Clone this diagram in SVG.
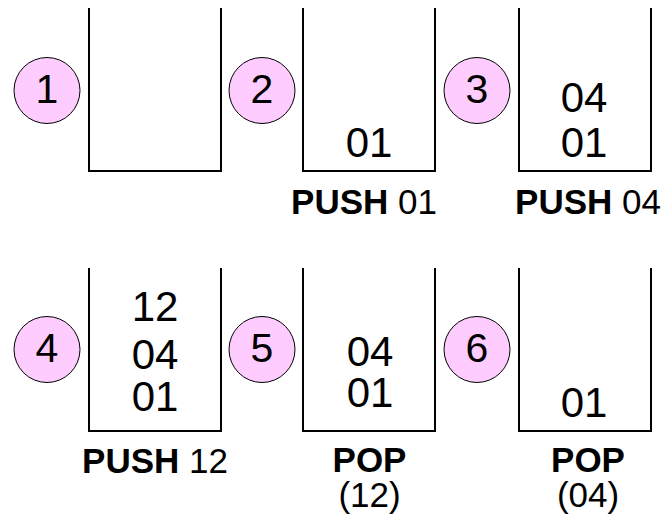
<svg xmlns="http://www.w3.org/2000/svg" width="672" height="523" viewBox="0 0 672 523">
<style>
.c{fill:#FFCCFF;stroke:#000;stroke-width:1}
.s{fill:none;stroke:#000;stroke-width:2}
text{font-family:"Liberation Sans",Arial,sans-serif;fill:#000;text-anchor:middle}
.n{font-size:41px}
.v{font-size:42px}
.l{font-size:35px}
.b{font-weight:bold}
</style>
<rect width="672" height="523" fill="#fff"/>
<g id="step1">
<circle class="c" cx="47" cy="90.5" r="33"/>
<text class="n" x="47" y="103">1</text>
<path class="s" d="M89,8V171H221V8"/>
</g>
<g id="step2">
<circle class="c" cx="262" cy="90.5" r="33"/>
<text class="n" x="262" y="103">2</text>
<path class="s" d="M303,8V171H435V8"/>
<text class="v" x="369" y="157">01</text>
<text class="l" x="364" y="214"><tspan class="b">PUSH</tspan> 01</text>
</g>
<g id="step3">
<circle class="c" cx="477" cy="90.5" r="33"/>
<text class="n" x="477" y="103">3</text>
<path class="s" d="M519,8V171H651V8"/>
<text class="v" x="584" y="112">04</text>
<text class="v" x="584" y="157">01</text>
<text class="l" x="588" y="214"><tspan class="b">PUSH</tspan> 04</text>
</g>
<g id="step4">
<circle class="c" cx="47" cy="349.5" r="33"/>
<text class="n" x="47" y="362">4</text>
<path class="s" d="M89,268V431H221V268"/>
<text class="v" x="155" y="321">12</text>
<text class="v" x="155" y="369">04</text>
<text class="v" x="155" y="411">01</text>
<text class="l" x="155" y="473"><tspan class="b">PUSH</tspan> 12</text>
</g>
<g id="step5">
<circle class="c" cx="262" cy="349.5" r="33"/>
<text class="n" x="262" y="362">5</text>
<path class="s" d="M303,268V431H435V268"/>
<text class="v" x="370" y="366">04</text>
<text class="v" x="370" y="407">01</text>
<text class="l b" x="369.5" y="472">POP</text>
<text class="l" x="369.5" y="507">(12)</text>
</g>
<g id="step6">
<circle class="c" cx="477" cy="349.5" r="33"/>
<text class="n" x="477" y="362">6</text>
<path class="s" d="M519,268V431H651V268"/>
<text class="v" x="584" y="417">01</text>
<text class="l b" x="588" y="472">POP</text>
<text class="l" x="588" y="507">(04)</text>
</g>
<g id="connectors"></g>
</svg>
